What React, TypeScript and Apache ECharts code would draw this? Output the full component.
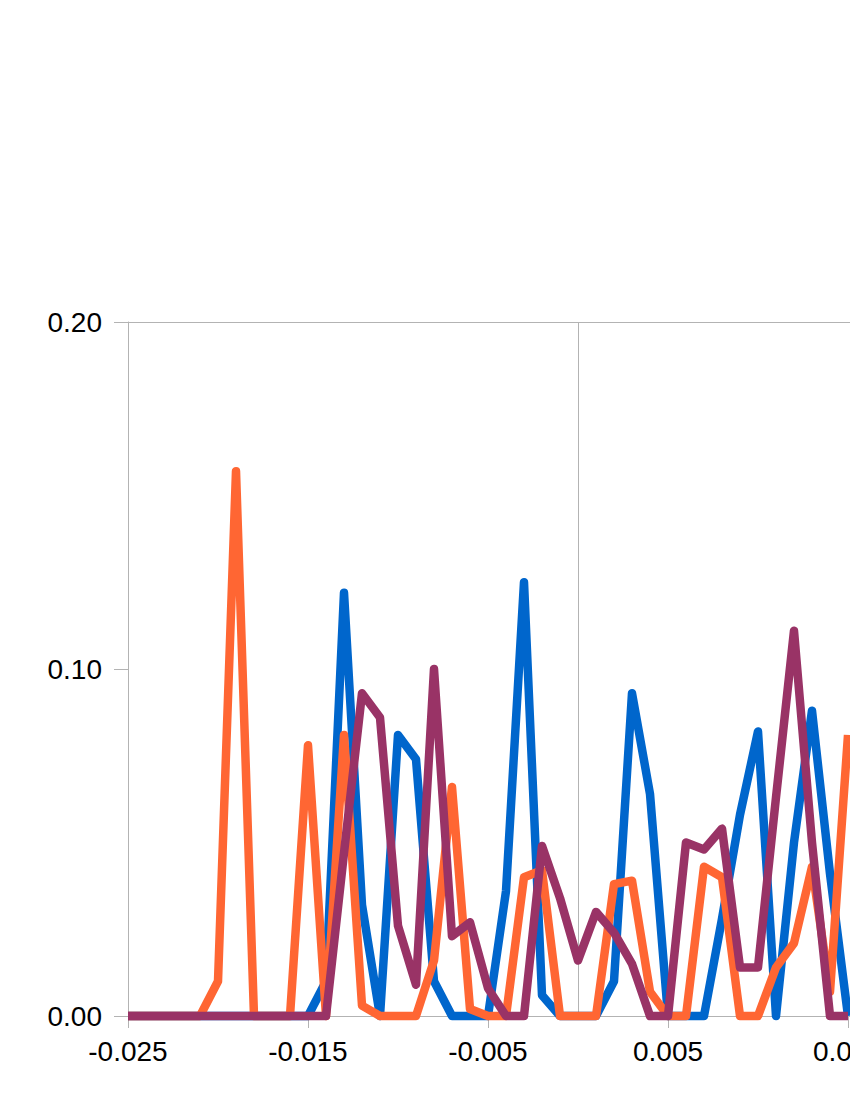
import React, { useEffect, useRef } from "react";
import * as echarts from "echarts";

const xValues = [
  -0.025, -0.024, -0.023, -0.022, -0.021, -0.02, -0.019, -0.018, -0.017, -0.016,
  -0.015, -0.014, -0.013, -0.012, -0.011, -0.01, -0.009, -0.008, -0.007, -0.006,
  -0.005, -0.004, -0.003, -0.002, -0.001, 0, 0.001, 0.002, 0.003, 0.004,
  0.005, 0.006, 0.007, 0.008, 0.009, 0.01, 0.011, 0.012, 0.013, 0.014, 0.015,
];

const blueValues = [
  0, 0, 0, 0, 0, 0, 0, 0, 0, 0,
  0, 0.01, 0.122, 0.032, 0, 0.081, 0.074, 0.01, 0, 0,
  0, 0.036, 0.125, 0.006, 0, 0, 0, 0.01, 0.093, 0.064,
  0, 0, 0, 0.028, 0.058, 0.082, 0, 0.05, 0.088, 0.041, 0,
];

const orangeValues = [
  0, 0, 0, 0, 0, 0.01, 0.157, 0, 0, 0,
  0.078, 0, 0.081, 0.003, 0, 0, 0, 0.016, 0.066, 0.002,
  0, 0, 0.04, 0.042, 0, 0, 0, 0.038, 0.039, 0.007,
  0, 0, 0.043, 0.04, 0, 0, 0.014, 0.021, 0.043, 0.007, 0.081,
];

const purpleValues = [
  0, 0, 0, 0, 0, 0, 0, 0, 0, 0,
  0, 0, 0.047, 0.093, 0.086, 0.026, 0.009, 0.1, 0.023, 0.027,
  0.008, 0, 0, 0.049, 0.034, 0.016, 0.03, 0.024, 0.015, 0,
  0, 0.05, 0.048, 0.054, 0.014, 0.014, 0.063, 0.111, 0.05, 0, 0,
];

const seriesNames = ["Series 1", "Series 2", "Series 3"];
const seriesColors = ["#0066cc", "#ff6633", "#993366"];

const GRAY = "#b3b3b3";
const FONT = "'Liberation Sans', Arial, sans-serif";

export default function App() {
  const ref = useRef<HTMLDivElement>(null);

  useEffect(() => {
    if (!ref.current) return;
    const chart = echarts.init(ref.current, undefined, { renderer: "svg" });
    const allValues = [blueValues, orangeValues, purpleValues];
    chart.setOption({
      animation: false,
      backgroundColor: "#ffffff",
      grid: { left: 128, top: 322, bottom: 84, right: 72, containLabel: false },
      xAxis: [
        {
          type: "value",
          min: -0.025,
          max: 0.025,
          interval: 0.01,
          axisLine: { show: true, onZero: false, lineStyle: { color: GRAY, width: 1 } },
          axisTick: { show: true, length: 12, lineStyle: { color: GRAY, width: 1 } },
          axisLabel: {
            color: "#000000",
            fontFamily: FONT,
            fontSize: 28,
            margin: 21,
            formatter: (v: number) => v.toFixed(3),
          },
          splitLine: { show: false },
        },
        {
          type: "value",
          min: -0.025,
          max: 0.025,
          interval: 0.025,
          position: "bottom",
          axisLine: { show: false },
          axisTick: { show: false },
          axisLabel: { show: false },
          splitLine: { show: true, lineStyle: { color: GRAY, width: 1 } },
        },
      ],
      yAxis: [
        {
          type: "value",
          min: 0,
          max: 0.2,
          interval: 0.1,
          axisLine: { show: true, onZero: false, lineStyle: { color: GRAY, width: 1 } },
          axisTick: { show: true, length: 14, lineStyle: { color: GRAY, width: 1 } },
          axisLabel: {
            color: "#000000",
            fontFamily: FONT,
            fontSize: 28,
            margin: 26,
            formatter: (v: number) => v.toFixed(2),
          },
          splitLine: { show: false },
        },
        {
          type: "value",
          min: 0,
          max: 0.2,
          interval: 0.2,
          position: "left",
          axisLine: { show: false },
          axisTick: { show: false },
          axisLabel: { show: false },
          splitLine: { show: true, lineStyle: { color: GRAY, width: 1 } },
        },
      ],
      series: allValues.map((vals, k) => ({
        name: seriesNames[k],
        type: "line",
        xAxisIndex: 0,
        yAxisIndex: 0,
        data: xValues.map((x, i) => [x, vals[i]]),
        showSymbol: false,
        symbol: "none",
        clip: false,
        lineStyle: { color: seriesColors[k], width: 8.5, cap: "butt", join: "round" },
        itemStyle: { color: seriesColors[k] },
        z: 3 + k,
      })),
    });
    return () => chart.dispose();
  }, []);

  return (
    <div
      style={{
        position: "absolute",
        left: 0,
        top: 0,
        width: 850,
        height: 1100,
        overflow: "hidden",
        background: "#ffffff",
      }}
    >
      <div ref={ref} style={{ width: 1100, height: 1100 }} />
    </div>
  );
}
